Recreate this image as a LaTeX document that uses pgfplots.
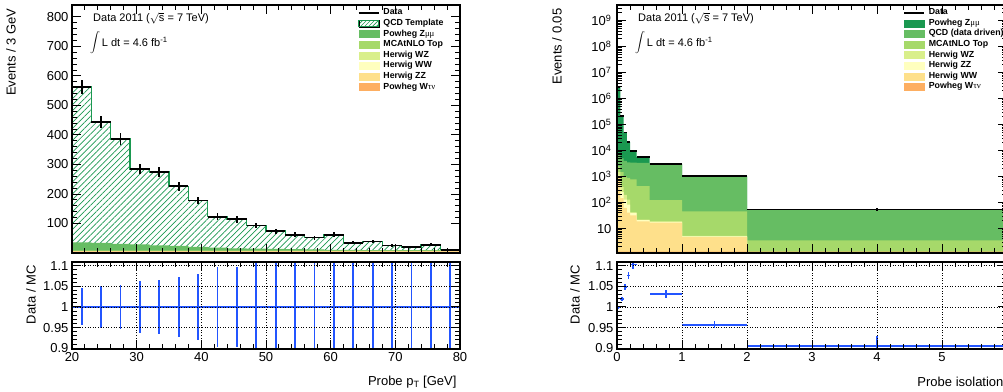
\documentclass[border=0pt]{standalone}
\usepackage{pgfplots}
\pgfplotsset{compat=1.18}
\usepackage{pgfplotstable}
\usepackage{fontspec}
\setmainfont{Liberation Sans}
\newfontfamily\grk{Liberation Serif}
\usetikzlibrary{patterns.meta}
\definecolor{cA}{RGB}{26,152,80}
\definecolor{cB}{RGB}{102,189,99}
\definecolor{cC}{RGB}{166,217,106}
\definecolor{cD}{RGB}{217,239,139}
\definecolor{cE}{RGB}{255,255,191}
\definecolor{cF}{RGB}{254,224,139}
\definecolor{cG}{RGB}{253,174,97}
\definecolor{rblue}{RGB}{35,85,255}
\newcommand{\tickfont}{\fontsize{13}{15}\selectfont}
\newcommand{\legfont}{\fontsize{8.8}{10}\selectfont\bfseries}
\newcommand{\txtfont}{\fontsize{11}{13}\selectfont}

% left stack: cumulative tops (bottom -> top: Wtaunu, ZZ, WW, WZ, Top, Zmumu, QCD)
\pgfplotstableread{
x  tot  zmm  top  wz   ww   zz   wtn
20 562  36   8    6.8  6.2  5.6  5
23 443  34   8    6.8  6.2  5.6  5
26 386  31   8    6.8  6.2  5.6  5
29 284  29   8    6.8  6.2  5.6  5
32 275  26   8    6.8  6.2  5.6  5
35 226  24   8    6.8  6.2  5.6  5
38 178  21   8    6.8  6.2  5.6  5
41 123  18   8    6.8  6.2  5.6  5
44 114  16   8    6.8  6.2  5.6  5
47 93   15   8    6.8  6.2  5.6  5
50 74   14   8    6.8  6.2  5.6  5
53 62   13   8    6.8  6.2  5.6  5
56 52   12   8    6.8  6.2  5.6  5
59 62   11   8    6.8  6.2  5.6  5
62 35   11   8    6.8  6.2  5.6  5
65 39   10   8    6.8  6.2  5.6  5
68 25   10   8    6.8  6.2  5.6  5
71 20   9.5  8    6.8  6.2  5.6  5
74 28   9.5  8    6.8  6.2  5.6  5
77 11   9    8    6.8  6.2  5.6  5
80 11   9    8    6.8  6.2  5.6  5
}\leftstack

\pgfplotstableread{
x    y    ex   ey   r     rey
21.5 562  1.5  23.7 1     0.045
24.5 443  1.5  21.0 1     0.051
27.5 386  1.5  19.6 1     0.054
30.5 284  1.5  16.9 1     0.064
33.5 275  1.5  16.6 1     0.065
36.5 226  1.5  15.0 1     0.072
39.5 178  1.5  13.3 1     0.081
42.5 123  1.5  11.1 1     0.096
45.5 114  1.5  10.7 1     0.098
48.5 93   1.5  9.6  1     0.115
51.5 74   1.5  8.6  1     0.13
54.5 62   1.5  7.9  1     0.14
57.5 52   1.5  7.2  1     0.15
60.5 62   1.5  7.9  1     0.14
63.5 35   1.5  5.9  1     0.18
66.5 39   1.5  6.2  1     0.17
69.5 25   1.5  5.0  1     0.21
72.5 20   1.5  4.5  1     0.23
75.5 28   1.5  5.3  1     0.2
78.5 11   1.5  3.3  1     0.31
}\leftdata

% right stack: cumulative tops (bottom -> top: Wtaunu, WW, ZZ, WZ, Top, QCD, Zmumu)
\pgfplotstableread{
x     tot     qcd   top   wz    zz    ww    wtn
0     2.8e6   7000  2500  1500  1100  900   1.3
0.05  2.1e5   5000  1500  400   250   150   1.3
0.1   5.0e4   4000  1000  200   130   63    1.3
0.15  2.1e4   3500  900   130   84    41    1.3
0.2   9.4e3   3450  780   42    40    32    1.3
0.3   5.7e3   3400  430   22    21    19    1.3
0.5   3.1e3   2950  125   19    18    17    1.3
1     1.03e3  990   46    5.2   5.0   4.7   1.3
2     54      52    3.5   0.9   0.8   0.7   1.3
6     54      52    3.5   0.9   0.8   0.7   1.3
}\rightstack

\pgfplotstableread{
x     y       ex     ey    r      rey
0.025 2.8e6   0.025  1673  0.999  0.004
0.075 2.1e5   0.025  458   1.019  0.005
0.125 5.0e4   0.025  224   1.048  0.007
0.175 2.1e4   0.025  145   1.076  0.009
0.25  9.4e3   0.05   97    1.103  0.010
0.4   5.7e3   0.1    75    1.16   0.012
0.75  3.1e3   0.25   56    1.031  0.009
1.5   1.03e3  0.5    32    0.957  0.009
4     54      2      7.3   0.905  0.024
}\rightdata

\pgfplotsset{
  rootstyle/.style={
    scale only axis,
    axis on top,
    axis line style={line width=1.6pt},
    tick align=inside,
    major tick length=9pt,
    minor tick length=5pt,
    tick style={black, line width=0.9pt},
    tick label style={font=\tickfont},
    /pgf/number format/assume math mode=true,
  },
  ratiostyle/.style={
    ymin=0.898, ymax=1.109,
    ytick={0.9,0.95,1,1.05,1.1},
    yticklabels={0.9,0.95,1,1.05,1.1},
    minor y tick num=4,
    grid=major,
    major grid style={black, line width=0.6pt, dash pattern=on 1pt off 1.6pt},
  },
  legstyle/.style={
    legend style={at={(rel axis cs:#1,1)}, anchor=north west, yshift=-2.5pt, draw=none, fill=none,
      inner sep=0pt, outer sep=0pt, row sep=0pt, column sep=4pt, font=\legfont,
      nodes={inner sep=0pt, text height=7.3pt, text depth=3.3pt}},
    legend cell align=left,
  },
  errstyle/.style={draw=none, mark=none, forget plot,
    error bars/.cd, x dir=both, x explicit, y dir=both, y explicit, error mark=none,
    error bar style={draw=#1, line width=1.7pt, solid}},
}

\begin{document}
\begin{tikzpicture}
\useasboundingbox (0,0) rectangle (1003pt,391pt);

% ===== left main =====
\begin{axis}[rootstyle, legstyle=0.737,
  at={(72pt,138pt)}, anchor=south west,
  width=388pt, height=248pt,
  xmin=20, xmax=80, ymin=0, ymax=840,
  xtick={20,30,...,80}, xticklabels=\empty, minor x tick num=4,
  ytick={100,200,...,800}, minor y tick num=4,
  ylabel={Events / 3 GeV},
  every axis y label/.style={at={(axis description cs:-0.1572,1)}, rotate=90, anchor=east, font=\tickfont},
]
\addlegendimage{legend image code/.code={\draw[black,line width=1.5pt] (0pt,0pt)--(20pt,0pt);}}
\addlegendentry{Data}
\addlegendimage{legend image code/.code={\path[pattern={Lines[angle=45,distance=2.8pt,line width=0.6pt]},pattern color=cA] (0pt,-3.3pt) rectangle (20pt,3.3pt); \draw[cA,line width=1pt] (0pt,-3.3pt) rectangle (20pt,3.3pt);}}
\addlegendentry{QCD Template}
\addlegendimage{legend image code/.code={\fill[cB] (0pt,-3.5pt) rectangle (20pt,3.5pt);}}
\addlegendentry{Powheg Z{\grk\mdseries μμ}}
\addlegendimage{legend image code/.code={\fill[cC] (0pt,-3.5pt) rectangle (20pt,3.5pt);}}
\addlegendentry{MCAtNLO Top}
\addlegendimage{legend image code/.code={\fill[cD] (0pt,-3.5pt) rectangle (20pt,3.5pt);}}
\addlegendentry{Herwig WZ}
\addlegendimage{legend image code/.code={\fill[cE] (0pt,-3.5pt) rectangle (20pt,3.5pt);}}
\addlegendentry{Herwig WW}
\addlegendimage{legend image code/.code={\fill[cF] (0pt,-3.5pt) rectangle (20pt,3.5pt);}}
\addlegendentry{Herwig ZZ}
\addlegendimage{legend image code/.code={\fill[cG] (0pt,-3.5pt) rectangle (20pt,3.5pt);}}
\addlegendentry{Powheg W{\grk\mdseries τν}}

\addplot[ybar interval, draw=none, pattern={Lines[angle=45,distance=4.2pt,line width=0.7pt]}, pattern color=cA, forget plot] table[x=x,y=tot]{\leftstack};
\addplot[ybar interval, draw=none, fill=cB, forget plot] table[x=x,y=zmm]{\leftstack};
\addplot[ybar interval, draw=none, fill=cC, forget plot] table[x=x,y=top]{\leftstack};
\addplot[ybar interval, draw=none, fill=cD, forget plot] table[x=x,y=wz]{\leftstack};
\addplot[ybar interval, draw=none, fill=cE, forget plot] table[x=x,y=ww]{\leftstack};
\addplot[ybar interval, draw=none, fill=cF, forget plot] table[x=x,y=zz]{\leftstack};
\addplot[ybar interval, draw=none, fill=cG, forget plot] table[x=x,y=wtn]{\leftstack};
\addplot[const plot, cA, line width=1.4pt, forget plot] table[x=x,y=tot]{\leftstack};
\addplot[errstyle=black] table[x=x, y=y, x error=ex, y error=ey]{\leftdata};
\end{axis}

% ===== left ratio =====
\begin{axis}[rootstyle, ratiostyle,
  at={(72pt,42pt)}, anchor=south west,
  width=388pt, height=87pt,
  xmin=20, xmax=80, xtick={20,30,...,80}, minor x tick num=4,
  ylabel={Data / MC},
  every axis y label/.style={at={(axis description cs:-0.1057,1)}, rotate=90, anchor=east, font=\tickfont},
  xlabel={Probe p\textsubscript{T} [GeV]},
  every axis x label/.style={at={(axis description cs:1,0)}, anchor=base east, yshift=-36.5pt, font=\tickfont},
]
\addplot[errstyle=rblue] table[x=x, y=r, x error=ex, y error=rey]{\leftdata};
\end{axis}

% ===== right main =====
\begin{axis}[rootstyle, legstyle=0.734,
  at={(617pt,138pt)}, anchor=south west,
  width=390pt, height=248pt,
  xmin=0, xmax=6, xtick={0,1,...,6}, xticklabels=\empty, minor x tick num=4,
  ymode=log, ymin=1.15, ymax=4e9,
  ytick={10,100,1000,1e4,1e5,1e6,1e7,1e8,1e9},
  yticklabels={10,10\textsuperscript{2},10\textsuperscript{3},10\textsuperscript{4},10\textsuperscript{5},10\textsuperscript{6},10\textsuperscript{7},10\textsuperscript{8},10\textsuperscript{9}},
  minor ytick={2,3,4,5,6,7,8,9,20,30,40,50,60,70,80,90,200,300,400,500,600,700,800,900,2e3,3e3,4e3,5e3,6e3,7e3,8e3,9e3,2e4,3e4,4e4,5e4,6e4,7e4,8e4,9e4,2e5,3e5,4e5,5e5,6e5,7e5,8e5,9e5,2e6,3e6,4e6,5e6,6e6,7e6,8e6,9e6,2e7,3e7,4e7,5e7,6e7,7e7,8e7,9e7,2e8,3e8,4e8,5e8,6e8,7e8,8e8,9e8,2e9,3e9},
  yticklabel style={xshift=-2pt},
  ylabel={Events / 0.05},
  every axis y label/.style={at={(axis description cs:-0.1538,1)}, rotate=90, anchor=east, font=\tickfont},
]
\addlegendimage{legend image code/.code={\draw[black,line width=1.5pt] (0pt,0pt)--(20pt,0pt);}}
\addlegendentry{Data}
\addlegendimage{legend image code/.code={\fill[cA] (0pt,-3.5pt) rectangle (20pt,3.5pt);}}
\addlegendentry{Powheg Z{\grk\mdseries μμ}}
\addlegendimage{legend image code/.code={\fill[cB] (0pt,-3.5pt) rectangle (20pt,3.5pt);}}
\addlegendentry{QCD (data driven)}
\addlegendimage{legend image code/.code={\fill[cC] (0pt,-3.5pt) rectangle (20pt,3.5pt);}}
\addlegendentry{MCAtNLO Top}
\addlegendimage{legend image code/.code={\fill[cD] (0pt,-3.5pt) rectangle (20pt,3.5pt);}}
\addlegendentry{Herwig WZ}
\addlegendimage{legend image code/.code={\fill[cE] (0pt,-3.5pt) rectangle (20pt,3.5pt);}}
\addlegendentry{Herwig ZZ}
\addlegendimage{legend image code/.code={\fill[cF] (0pt,-3.5pt) rectangle (20pt,3.5pt);}}
\addlegendentry{Herwig WW}
\addlegendimage{legend image code/.code={\fill[cG] (0pt,-3.5pt) rectangle (20pt,3.5pt);}}
\addlegendentry{Powheg W{\grk\mdseries τν}}

\addplot[ybar interval, draw=none, fill=cA, forget plot] table[x=x,y=tot]{\rightstack};
\addplot[ybar interval, draw=none, fill=cB, forget plot] table[x=x,y=qcd]{\rightstack};
\addplot[ybar interval, draw=none, fill=cC, forget plot] table[x=x,y=top]{\rightstack};
\addplot[ybar interval, draw=none, fill=cD, forget plot] table[x=x,y=wz]{\rightstack};
\addplot[ybar interval, draw=none, fill=cE, forget plot] table[x=x,y=zz]{\rightstack};
\addplot[ybar interval, draw=none, fill=cF, forget plot] table[x=x,y=ww]{\rightstack};
\addplot[ybar interval, draw=none, fill=cG, forget plot] table[x=x,y=wtn]{\rightstack};
\addplot[errstyle=black] table[x=x, y=y, x error=ex, y error=ey]{\rightdata};
\end{axis}

% ===== right ratio =====
\begin{axis}[rootstyle, ratiostyle,
  at={(617pt,42pt)}, anchor=south west,
  width=390pt, height=87pt,
  xmin=0, xmax=6, xtick={0,1,...,6}, minor x tick num=4,
  ylabel={Data / MC},
  every axis y label/.style={at={(axis description cs:-0.1077,1)}, rotate=90, anchor=east, font=\tickfont},
  xlabel={Probe isolation},
  every axis x label/.style={at={(axis description cs:1,0)}, anchor=base east, yshift=-37.5pt, font=\tickfont},
]
\addplot[errstyle=rblue] table[x=x, y=r, x error=ex, y error=rey]{\rightdata};
\end{axis}

% ===== annotations =====
\node[anchor=base west, inner sep=0pt, font=\txtfont] at (93pt,369.5pt) {Data 2011 ($\sqrt{\mbox{s}}$ = 7 TeV)};
\node[inner sep=0pt, font=\txtfont] at (95pt,348.5pt) {$\displaystyle\int$};
\node[anchor=base west, inner sep=0pt, font=\txtfont] at (101.7pt,344.5pt) {L dt = 4.6 fb\textsuperscript{-1}};
\node[anchor=base west, inner sep=0pt, font=\txtfont] at (638pt,369.5pt) {Data 2011 ($\sqrt{\mbox{s}}$ = 7 TeV)};
\node[inner sep=0pt, font=\txtfont] at (640pt,348.5pt) {$\displaystyle\int$};
\node[anchor=base west, inner sep=0pt, font=\txtfont] at (646.7pt,344.5pt) {L dt = 4.6 fb\textsuperscript{-1}};
\end{tikzpicture}
\end{document}
